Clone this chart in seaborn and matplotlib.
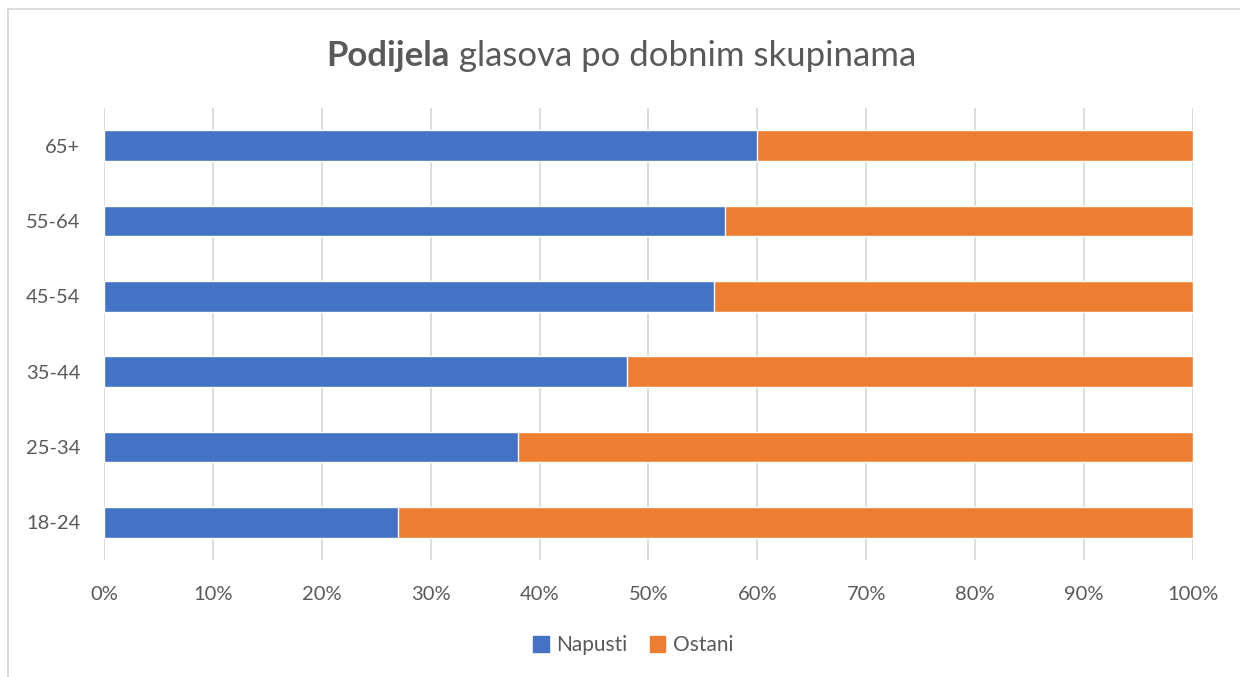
import pandas as pd
import seaborn as sns
import matplotlib.pyplot as plt
from matplotlib.patches import Patch
from matplotlib.ticker import PercentFormatter

# age groups, top to bottom as shown
groups = ['65+', '55-64', '45-54', '35-44', '25-34', '18-24']
napusti = [60, 57, 56, 48, 38, 27]
ostani = [40, 43, 44, 52, 62, 73]

df = pd.DataFrame({'grupa': groups, 'Napusti': napusti, 'Ostani': ostani})
df['ukupno'] = df['Napusti'] + df['Ostani']

BLUE = '#4472C4'
ORANGE = '#ED7D31'
GREY = '#595959'

sns.set_theme(style='white')
plt.rcParams['font.family'] = ['Lato', 'DejaVu Sans']

fig = plt.figure(figsize=(12.4, 6.77), dpi=100)
ax = fig.add_axes([0.0839, 0.1728, 0.962 - 0.0839, 0.8405 - 0.1728])

# stacked bars: full length in orange, blue share on top
sns.barplot(data=df, x='ukupno', y='grupa', order=groups, color=ORANGE,
            width=0.41, saturation=1, ax=ax, zorder=2)
sns.barplot(data=df, x='Napusti', y='grupa', order=groups, color=BLUE,
            width=0.41, saturation=1, ax=ax, zorder=3)

ax.set_xlim(0, 100)
ax.set_xticks(range(0, 101, 10))
ax.xaxis.set_major_formatter(PercentFormatter(decimals=0))
ax.grid(axis='x', color='#d9d9d9', linewidth=1.3, zorder=0)
ax.set_axisbelow(True)
ax.set_xlabel('')
ax.set_ylabel('')
for s in ax.spines.values():
    s.set_visible(False)
ax.tick_params(axis='both', length=0, labelcolor=GREY)
ax.tick_params(axis='x', pad=19, labelsize=14.5)
ax.tick_params(axis='y', pad=17, labelsize=14.5)

# title: first word bold, rest regular, centred as a whole
TY = 0.918
TS = 25
t1 = fig.text(0.5, TY, 'Podijela glasova po dobnim skupinama', ha='center',
              va='center', fontsize=TS, color=GREY, alpha=0)
fig.canvas.draw()
bb = t1.get_window_extent()
tb = fig.text(bb.x0 / 1240, TY, 'Podijela', ha='left', va='center',
              fontsize=TS, color=GREY, fontweight='bold')
fig.canvas.draw()
bb2 = tb.get_window_extent()
fig.text(bb2.x1 / 1240, TY, ' glasova po dobnim skupinama', ha='left',
         va='center', fontsize=TS, color=GREY)

handles = [Patch(color=BLUE, label='Napusti'), Patch(color=ORANGE, label='Ostani')]
fig.legend(handles=handles, loc='center', bbox_to_anchor=(0.5105, 0.047), ncol=2,
           frameon=False, fontsize=15, handlelength=0.75, handleheight=0.75,
           handletextpad=0.35, columnspacing=1.1, labelcolor=GREY)

# chart border (cropped on right/bottom in reference)
fig.add_artist(plt.Line2D([8 / 1240, 8 / 1240], [0, 1 - 9 / 677], color='#d9d9d9',
                          linewidth=1.3, transform=fig.transFigure))
fig.add_artist(plt.Line2D([8 / 1240, 1], [1 - 9 / 677, 1 - 9 / 677], color='#d9d9d9',
                          linewidth=1.3, transform=fig.transFigure))

fig.savefig('out.png', dpi=100)
